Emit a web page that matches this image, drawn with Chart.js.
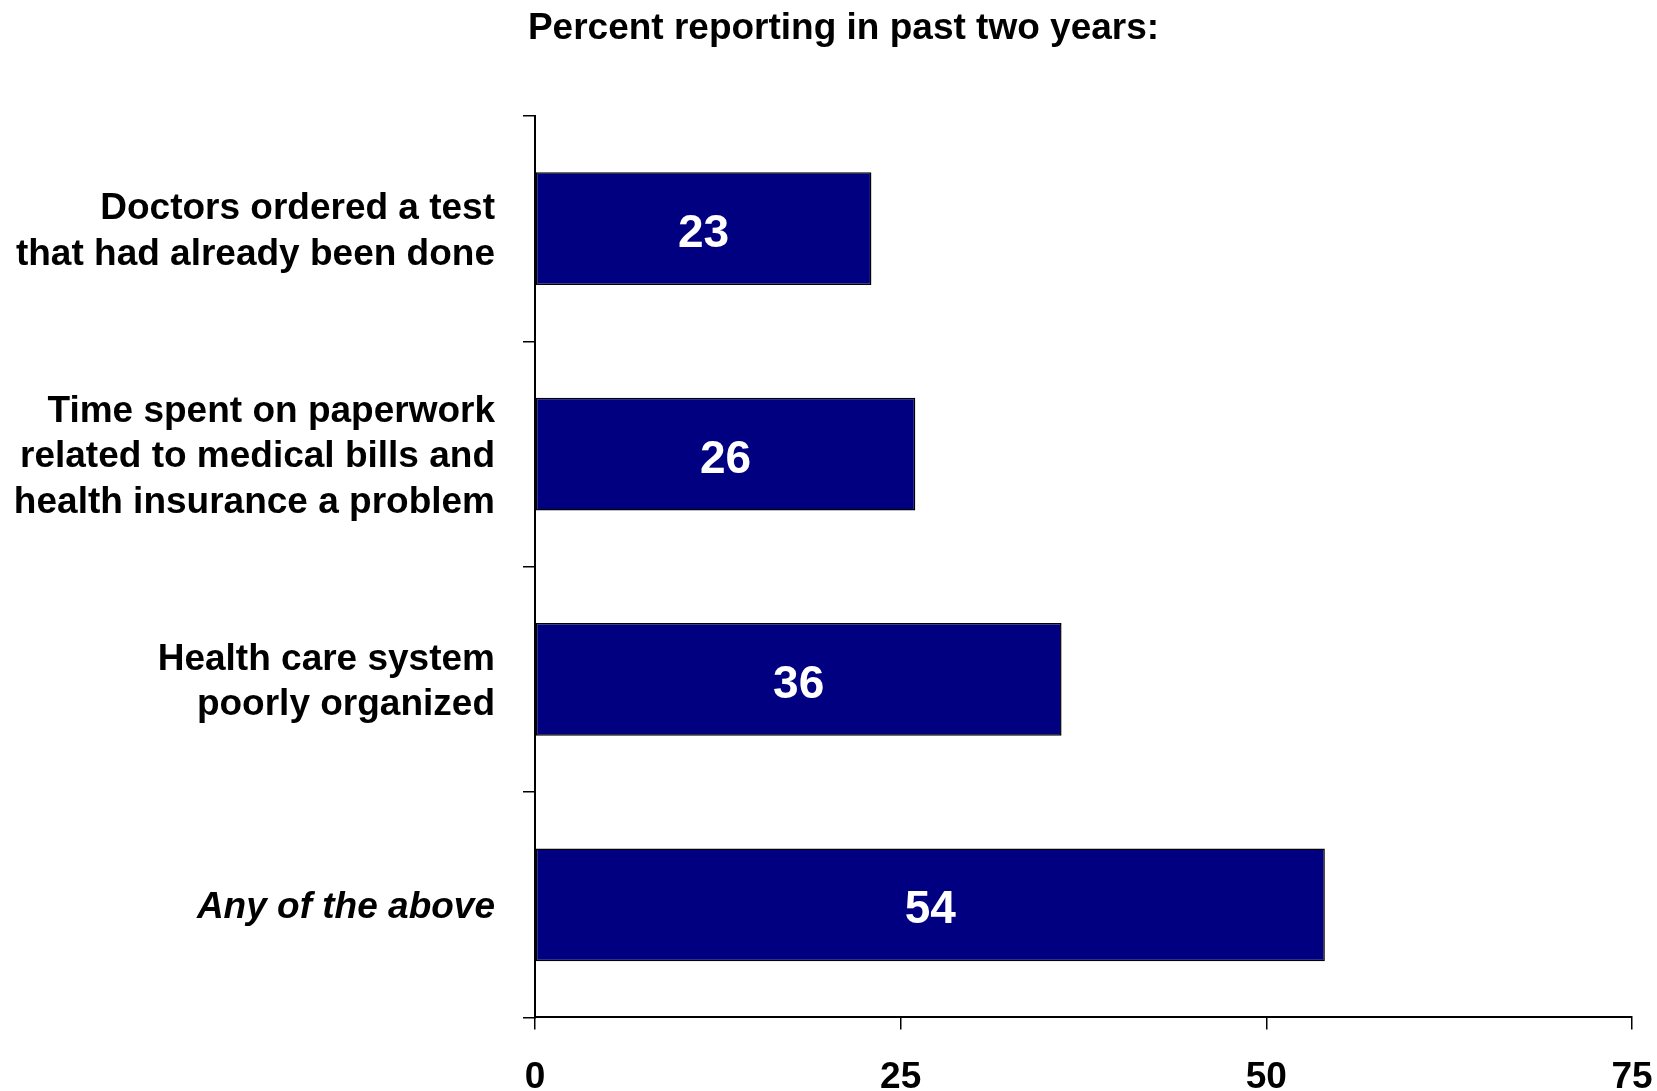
<!DOCTYPE html>
<html>
<head>
<meta charset="utf-8">
<script src="https://cdn.jsdelivr.net/npm/chart.js@4.4.1/dist/chart.umd.min.js"></script>
<style>
    html, body { margin: 0; padding: 0; background: #fff; }
    #wrap { width: 1657px; height: 1091px; }
</style>
</head>
<body>
<div id="wrap"><canvas id="survey_chart" width="1657" height="1091"></canvas></div>
<script>
var categories = [
    ["Doctors ordered a test", "that had already been done"],
    ["Time spent on paperwork", "related to medical bills and", "health insurance a problem"],
    ["Health care system", "poorly organized"],
    "Any of the above"
];
var percents = [23, 26, 36, 54];
var x_ticks = [0, 25, 50, 75];
var chart_title = "Percent reporting in past two years:";

var FONT = '"Liberation Sans", Arial, sans-serif';

// white numbers inside the bars
var barValues = {
    id: 'barValues',
    afterDatasetsDraw: function (chart) {
        var ctx = chart.ctx;
        var meta = chart.getDatasetMeta(0);
        ctx.save();
        ctx.fillStyle = '#fff';
        ctx.font = 'bold 46px ' + FONT;
        ctx.textAlign = 'center';
        ctx.textBaseline = 'middle';
        meta.data.forEach(function (bar, i) {
            ctx.fillText(percents[i], (bar.base + bar.x) / 2, bar.y + 6);
        });
        ctx.restore();
    }
};

// heading sits a bit right of the canvas centre, like the original slide
var topTitle = {
    id: 'topTitle',
    afterDraw: function (chart) {
        var ctx = chart.ctx;
        ctx.save();
        ctx.fillStyle = '#000';
        ctx.font = 'bold 37px ' + FONT;
        ctx.textAlign = 'center';
        ctx.textBaseline = 'alphabetic';
        ctx.fillText(chart_title, 843.5, 38.5);
        ctx.restore();
    }
};

var ctx_survey = document.getElementById("survey_chart").getContext("2d");
var survey_chart = new Chart(ctx_survey, {
    type: "bar",
    data: {
        labels: categories,
        datasets: [{
            data: percents,
            backgroundColor: "#000080",
            borderColor: "#000",
            borderWidth: 1.5,
            borderSkipped: false,
            barPercentage: 0.5,
            categoryPercentage: 1
        }]
    },
    options: {
        indexAxis: 'y',
        responsive: false,
        animation: false,
        layout: { padding: { left: 0, right: 25, top: 116, bottom: 0 } },
        plugins: {
            legend: { display: false },
            tooltip: { enabled: false },
            title: { display: false }
        },
        scales: {
            x: {
                min: 0,
                max: 75,
                afterBuildTicks: function (scale) {
                    scale.ticks = x_ticks.map(function (v) { return { value: v }; });
                },
                afterFit: function (scale) {
                    scale.height = 73;
                    scale.paddingRight = 0;
                    scale.paddingLeft = 0;
                },
                grid: { drawOnChartArea: false, drawTicks: true, tickLength: 12, color: '#000', lineWidth: 1.5 },
                border: { display: true, color: '#000', width: 2 },
                ticks: {
                    color: '#000',
                    padding: 26,
                    maxRotation: 0,
                    font: { family: FONT, size: 37, weight: 'bold' }
                }
            },
            y: {
                afterFit: function (scale) { scale.width = 535; },
                grid: { drawOnChartArea: false, drawTicks: true, tickLength: 12, color: '#000', lineWidth: 1.5, offset: true },
                border: { display: true, color: '#000', width: 2 },
                ticks: {
                    color: '#000',
                    padding: 28,
                    labelOffset: 3,
                    font: function (c) {
                        return {
                            family: FONT,
                            size: 37,
                            weight: 'bold',
                            style: c.index === 3 ? 'italic' : 'normal',
                            lineHeight: 1.23
                        };
                    }
                }
            }
        }
    },
    plugins: [barValues, topTitle]
});
</script>
</body>
</html>
